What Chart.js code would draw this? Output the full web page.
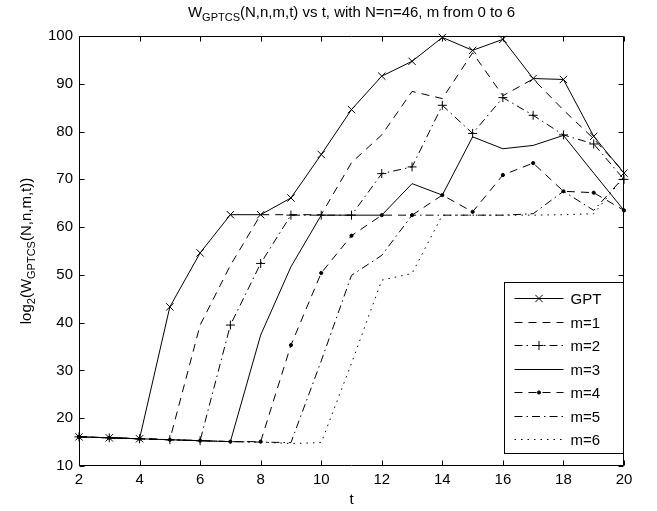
<!DOCTYPE html>
<html><head><meta charset="utf-8">
<script src="https://cdn.jsdelivr.net/npm/chart.js@4.4.0/dist/chart.umd.min.js"></script>
<style>html,body{margin:0;padding:0;background:#fff}</style>
</head><body>
<canvas id="c" width="657" height="511"></canvas>
<script>
// ---- data ----
const tValues = [2,3,4,5,6,7,8,9,10,11,12,13,14,15,16,17,18,19,20];
const seriesLabels = ['GPT','m=1','m=2','m=3','m=4','m=5','m=6'];
const gpt = [16.1,15.9,15.7,43.3,54.6,62.6,62.6,66.1,75.2,84.6,91.6,94.7,99.7,97.0,99.3,91.1,90.9,79.0,71.3];
const m1  = [16.1,15.9,15.7,15.5,39.5,52.0,62.6,62.6,62.6,73.5,79.3,88.4,86.9,96.5,87.5,91.0,84.5,78.5,71.5];
const m2  = [16.1,15.9,15.7,15.5,15.3,39.5,52.4,62.5,62.5,62.5,71.2,72.6,85.5,79.6,87.1,83.4,79.3,77.4,70.0];
const m3  = [16.1,15.9,15.7,15.5,15.3,15.1,37.4,51.7,62.5,62.5,62.5,69.1,66.7,78.9,76.4,77.1,79.2,71.3,63.5];
const m4  = [16.1,15.9,15.7,15.5,15.3,15.1,15.1,35.3,50.4,58.2,62.5,62.5,66.7,63.2,70.9,73.4,67.5,67.2,63.5];
const m5  = [16.1,15.9,15.7,15.5,15.3,15.1,15.0,14.9,32.0,49.9,54.1,62.5,62.5,62.5,62.5,62.8,67.5,63.5,70.5];
const m6  = [16.1,15.9,15.7,15.5,15.3,15.1,15.0,14.7,14.9,31.5,48.9,50.3,62.5,62.5,62.5,62.5,62.6,62.8,70.5];
const xTicks = [2,4,6,8,10,12,14,16,18,20];
const yTicks = [10,20,30,40,50,60,70,80,90,100];

// ---- styling ----
const FONT = '"Liberation Sans", Arial, Helvetica, sans-serif';
const styles = [
  {dash: [], point: 'crossRot', r: 5.2},
  {dash: [8, 6], point: false, r: 0},
  {dash: [8, 4, 1.5, 4], point: 'cross', r: 4.5},
  {dash: [], point: false, r: 0},
  {dash: [8, 6], point: 'circle', r: 1.6},
  {dash: [8, 4, 1.5, 4], point: false, r: 0},
  {dash: [1.5, 5], point: false, r: 0}
];
const allSeries = [gpt, m1, m2, m3, m4, m5, m6];

const datasets = allSeries.map((vals, i) => ({
  label: seriesLabels[i],
  data: tValues.map((t, k) => ({x: t, y: vals[k]})),
  borderColor: '#000',
  backgroundColor: '#000',
  borderWidth: 1,
  borderDash: styles[i].dash,
  pointStyle: styles[i].point || 'circle',
  pointRadius: styles[i].point ? styles[i].r : 0,
  pointBorderWidth: 1,
  pointBorderColor: '#000',
  pointBackgroundColor: '#000',
  tension: 0,
  fill: false,
  clip: false
}));

function drawRich(ctx, parts, x, y) {
  let cx = x;
  parts.forEach(([txt, size, dy]) => {
    ctx.font = size + 'px ' + FONT;
    ctx.fillText(txt, cx, y + dy);
    cx += ctx.measureText(txt).width;
  });
}
function richWidth(ctx, parts) {
  let w = 0;
  parts.forEach(([txt, size]) => { ctx.font = size + 'px ' + FONT; w += ctx.measureText(txt).width; });
  return w;
}

const axesPlugin = {
  id: 'matlabAxes',
  afterDatasetsDraw(chart) {
    const {ctx, chartArea: a, scales: {x, y}} = chart;
    ctx.save();
    ctx.strokeStyle = '#000';
    ctx.lineWidth = 1;
    ctx.setLineDash([]);
    const L = Math.round(a.left) + 0.5, R = Math.round(a.right) - 0.5;
    const T = Math.round(a.top) + 0.5, B = Math.round(a.bottom) - 0.5;
    ctx.beginPath();
    ctx.rect(L, T, R - L, B - T);
    xTicks.forEach(v => {
      const px = Math.round(x.getPixelForValue(v)) + 0.5;
      ctx.moveTo(px, B); ctx.lineTo(px, B - 5);
      ctx.moveTo(px, T); ctx.lineTo(px, T + 5);
    });
    yTicks.forEach(v => {
      const py = Math.round(y.getPixelForValue(v)) + 0.5;
      ctx.moveTo(L, py); ctx.lineTo(L + 5, py);
      ctx.moveTo(R, py); ctx.lineTo(R - 5, py);
    });
    ctx.stroke();
    ctx.restore();
  },
  afterDraw(chart) {
    const {ctx, chartArea: a} = chart;
    ctx.save();
    ctx.fillStyle = '#000';
    ctx.textBaseline = 'alphabetic';
    const tParts = [['W', 15, 0], ['GPTCS', 11, 4], ['(N,n,m,t) vs t, with N=n=46, m from 0 to 6', 15, 0]];
    const tw = richWidth(ctx, tParts);
    drawRich(ctx, tParts, (a.left + a.right) / 2 - tw / 2, 17);
    const yParts = [['log', 15, 0], ['2', 11, 4], ['(W', 15, 0], ['GPTCS', 11, 4], ['(N,n,m,t))', 15, 0]];
    const yw = richWidth(ctx, yParts);
    ctx.translate(31, (a.top + a.bottom) / 2);
    ctx.rotate(-Math.PI / 2);
    drawRich(ctx, yParts, -yw / 2, 0);
    ctx.restore();

    ctx.save();
    const boxR = a.right - 1, boxB = a.bottom - 13;
    const boxW = 119, boxH = 171;
    const bx = Math.round(boxR - boxW) + 0.5, by = Math.round(boxB - boxH) + 0.5;
    ctx.fillStyle = '#fff';
    ctx.fillRect(bx, by, boxW, boxH);
    ctx.strokeStyle = '#000';
    ctx.lineWidth = 1;
    ctx.setLineDash([]);
    ctx.strokeRect(bx, by, boxW, boxH);
    ctx.font = '15px ' + FONT;
    ctx.textBaseline = 'middle';
    chart.data.datasets.forEach((ds, i) => {
      const cy = Math.round(by + 15.5 + i * 23.55) + 0.5;
      const x0 = bx + 10, x1 = bx + 59;
      ctx.beginPath();
      ctx.setLineDash(ds.borderDash);
      ctx.strokeStyle = '#000';
      ctx.moveTo(x0, cy); ctx.lineTo(x1, cy);
      ctx.stroke();
      ctx.setLineDash([]);
      if (ds.pointRadius > 0) {
        ctx.fillStyle = '#000';
        Chart.helpers.drawPoint(ctx, {pointStyle: ds.pointStyle, radius: ds.pointRadius, borderWidth: 1, rotation: 0}, (x0 + x1) / 2, cy);
      }
      ctx.fillStyle = '#000';
      ctx.fillText(ds.label, bx + 66, cy + 1);
    });
    ctx.restore();
  }
};

new Chart(document.getElementById('c'), {
  type: 'line',
  data: {datasets},
  options: {
    responsive: false,
    animation: false,
    devicePixelRatio: 1,
    layout: {padding: {left: 0, top: 36, right: 33, bottom: 0}},
    plugins: {legend: {display: false}, title: {display: false}, tooltip: {enabled: false}},
    scales: {
      x: {
        type: 'linear', min: 2, max: 20,
        afterBuildTicks: s => { s.ticks = xTicks.map(v => ({value: v})); },
        afterFit: s => { s.height = 45; },
        ticks: {color: '#000', font: {family: FONT, size: 15}, padding: 5, maxRotation: 0, autoSkip: false},
        grid: {display: false, drawTicks: false},
        border: {display: false},
        title: {display: true, text: 't', color: '#000', font: {family: FONT, size: 15}, padding: {top: 0, bottom: 2}}
      },
      y: {
        type: 'linear', min: 10, max: 100,
        afterBuildTicks: s => { s.ticks = yTicks.map(v => ({value: v})); },
        afterFit: s => { s.width = 79; },
        ticks: {color: '#000', font: {family: FONT, size: 15}, padding: 6, autoSkip: false},
        grid: {display: false, drawTicks: false},
        border: {display: false}
      }
    }
  },
  plugins: [axesPlugin]
});
</script>
</body></html>
